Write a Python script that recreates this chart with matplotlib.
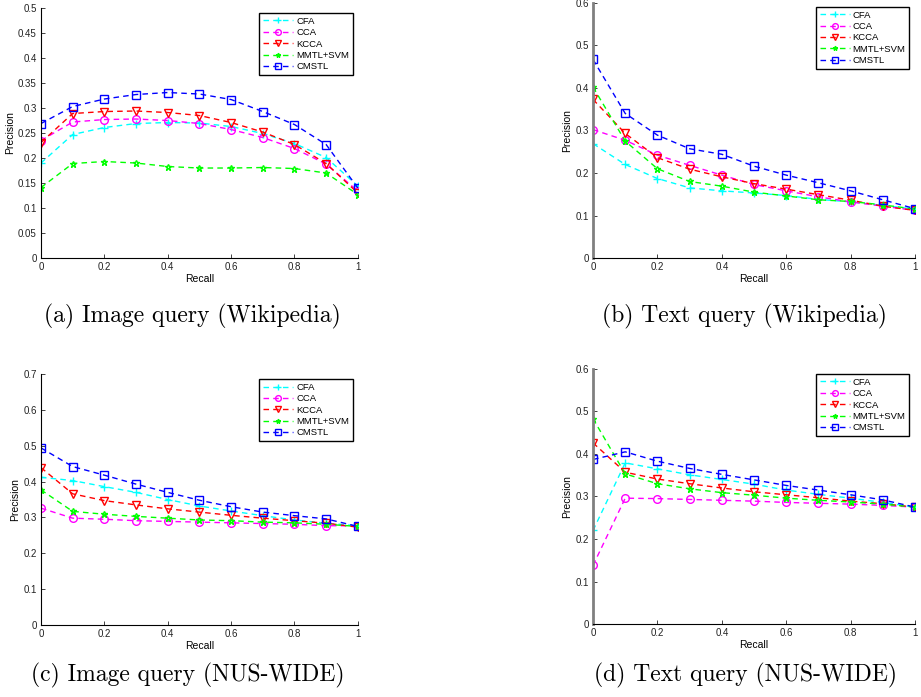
import matplotlib
matplotlib.use('Agg')
import matplotlib.pyplot as plt
import numpy as np

# recall levels
recall = [0, 0.1, 0.2, 0.3, 0.4, 0.5, 0.6, 0.7, 0.8, 0.9, 1.0]
methods = ['CFA', 'CCA', 'KCCA', 'MMTL+SVM', 'CMSTL']

# (a) image query, wikipedia
a_cfa = [0.190, 0.247, 0.261, 0.269, 0.271, 0.270, 0.263, 0.249, 0.229, 0.201, 0.144]
a_cca = [0.235, 0.272, 0.277, 0.278, 0.275, 0.269, 0.257, 0.241, 0.219, 0.188, 0.134]
a_kcca = [0.231, 0.289, 0.293, 0.294, 0.291, 0.285, 0.271, 0.252, 0.227, 0.189, 0.130]
a_mmtl = [0.141, 0.189, 0.193, 0.190, 0.183, 0.180, 0.180, 0.181, 0.179, 0.170, 0.127]
a_cmstl = [0.269, 0.303, 0.318, 0.327, 0.331, 0.328, 0.317, 0.293, 0.267, 0.227, 0.140]

# (b) text query, wikipedia
b_cfa = [0.269, 0.220, 0.187, 0.165, 0.158, 0.153, 0.147, 0.138, 0.132, 0.124, 0.115]
b_cca = [0.302, 0.277, 0.242, 0.218, 0.195, 0.173, 0.158, 0.144, 0.132, 0.122, 0.112]
b_kcca = [0.373, 0.293, 0.236, 0.209, 0.191, 0.175, 0.162, 0.149, 0.136, 0.122, 0.112]
b_mmtl = [0.402, 0.275, 0.210, 0.180, 0.169, 0.155, 0.146, 0.137, 0.133, 0.125, 0.115]
b_cmstl = [0.467, 0.340, 0.289, 0.257, 0.244, 0.216, 0.195, 0.177, 0.158, 0.137, 0.116]

# (c) image query, nus-wide
c_cfa = [0.412, 0.403, 0.386, 0.370, 0.350, 0.332, 0.318, 0.305, 0.293, 0.284, 0.277]
c_cca = [0.326, 0.298, 0.295, 0.291, 0.289, 0.287, 0.285, 0.283, 0.281, 0.277, 0.277]
c_kcca = [0.439, 0.366, 0.347, 0.335, 0.324, 0.315, 0.306, 0.298, 0.291, 0.284, 0.273]
c_mmtl = [0.377, 0.317, 0.309, 0.303, 0.298, 0.293, 0.291, 0.287, 0.285, 0.281, 0.275]
c_cmstl = [0.494, 0.442, 0.418, 0.393, 0.370, 0.348, 0.330, 0.315, 0.305, 0.296, 0.275]

# (d) text query, nus-wide
d_cfa = [0.220, 0.379, 0.365, 0.351, 0.340, 0.329, 0.315, 0.305, 0.296, 0.286, 0.275]
d_cca = [0.138, 0.296, 0.295, 0.293, 0.291, 0.289, 0.286, 0.284, 0.282, 0.279, 0.275]
d_kcca = [0.426, 0.357, 0.341, 0.330, 0.320, 0.311, 0.304, 0.297, 0.289, 0.283, 0.275]
d_mmtl = [0.483, 0.353, 0.330, 0.318, 0.309, 0.303, 0.296, 0.291, 0.287, 0.282, 0.275]
d_cmstl = [0.387, 0.405, 0.383, 0.366, 0.352, 0.339, 0.326, 0.315, 0.304, 0.292, 0.275]

xtick_vals = [0, 0.2, 0.4, 0.6, 0.8, 1.0]
xtick_labels = ['0', '0.2', '0.4', '0.6', '0.8', '1']
ytick_vals_a = [0, 0.05, 0.1, 0.15, 0.2, 0.25, 0.3, 0.35, 0.4, 0.45, 0.5]
ytick_labels_a = ['0', '0.05', '0.1', '0.15', '0.2', '0.25', '0.3', '0.35', '0.4', '0.45', '0.5']
ytick_vals_b = [0, 0.1, 0.2, 0.3, 0.4, 0.5, 0.6]
ytick_labels_b = ['0', '0.1', '0.2', '0.3', '0.4', '0.5', '0.6']
ytick_vals_c = [0, 0.1, 0.2, 0.3, 0.4, 0.5, 0.6, 0.7]
ytick_labels_c = ['0', '0.1', '0.2', '0.3', '0.4', '0.5', '0.6', '0.7']

captions = ['(a) Image query (Wikipedia)', '(b) Text query (Wikipedia)',
            '(c) Image query (NUS-WIDE)', '(d) Text query (NUS-WIDE)']

colors = ['#00ffff', '#ff00ff', '#ff0000', '#00ff00', '#0000ff']
markers = ['+', 'o', 'v', '*', 's']

plt.rcParams['font.family'] = ['Liberation Sans', 'DejaVu Sans']

fig = plt.figure(figsize=(9.21, 6.97), dpi=100)

panels = [
    ([0.0445, 0.6298, 0.344, 0.3587], [a_cfa, a_cca, a_kcca, a_mmtl, a_cmstl],
     ytick_vals_a, ytick_labels_a, 0.5, False, (0.984, 0.98)),
    ([0.6439, 0.6298, 0.3496, 0.366], [b_cfa, b_cca, b_kcca, b_mmtl, b_cmstl],
     ytick_vals_b, ytick_labels_b, 0.6, True, (0.982, 0.985)),
    ([0.0445, 0.1033, 0.344, 0.360], [c_cfa, c_cca, c_kcca, c_mmtl, c_cmstl],
     ytick_vals_c, ytick_labels_c, 0.7, False, (0.984, 0.98)),
    ([0.6439, 0.1047, 0.3496, 0.366], [d_cfa, d_cca, d_kcca, d_mmtl, d_cmstl],
     ytick_vals_b, ytick_labels_b, 0.6, True, (0.982, 0.98)),
]

cap_pos = [(192 / 921, 1 - 316 / 697), (744 / 921, 1 - 316 / 697),
           (188 / 921, 1 - 675 / 697), (745 / 921, 1 - 675 / 697)]

for i, (rect, series, yv, yl, ymax, grey, anchor) in enumerate(panels):
    ax = fig.add_axes(rect)
    for j, vals in enumerate(series):
        ax.plot(recall, vals, linestyle=(0, (4, 3)), color=colors[j], lw=1.0,
                marker=markers[j], markersize=5.5 if markers[j] != '*' else 4.5,
                markerfacecolor='none', markeredgewidth=1.0, label=methods[j])
    ax.set_xlim(0, 1)
    ax.set_ylim(0, ymax)
    ax.set_xticks(xtick_vals)
    ax.set_xticklabels(xtick_labels)
    ax.set_yticks(yv)
    ax.set_yticklabels(yl)
    ax.tick_params(direction='in', length=3, width=0.6, labelsize=7, pad=3,
                   colors='#222222')
    ax.spines['top'].set_visible(False)
    ax.spines['right'].set_visible(False)
    ax.spines['bottom'].set_linewidth(0.8)
    if grey:
        ax.spines['left'].set_color('#808080')
        ax.spines['left'].set_linewidth(2.0)
    else:
        ax.spines['left'].set_linewidth(0.8)
    ax.set_xlabel('Recall', fontsize=7.5, labelpad=1)
    ax.set_ylabel('Precision', fontsize=7.5, labelpad=2)
    leg = ax.legend(loc='upper right', bbox_to_anchor=anchor, fontsize=6.8,
                    fancybox=False, framealpha=1, edgecolor='black',
                    handlelength=3.2, handletextpad=0.3, borderpad=0.4,
                    labelspacing=0.25, borderaxespad=0, markerscale=0.75)
    leg.get_frame().set_linewidth(1.0)
    fig.text(cap_pos[i][0], cap_pos[i][1], captions[i], ha='center', va='center',
             fontsize=17, family='cmr10')

fig.savefig('out.png', dpi=100)
